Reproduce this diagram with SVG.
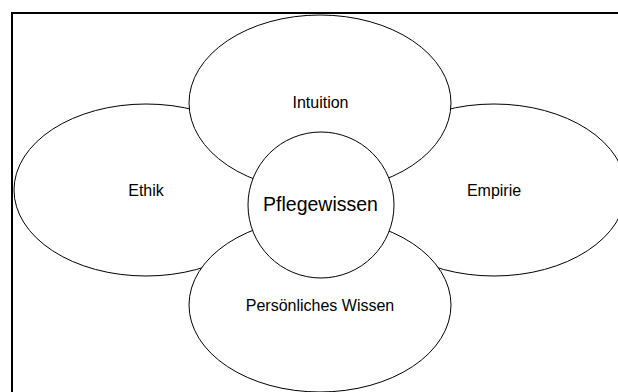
<svg xmlns="http://www.w3.org/2000/svg" width="618" height="392" viewBox="0 0 618 392">
  <style>
    .frame { fill: none; stroke: #000; stroke-width: 2; }
    .part { fill: #fff; stroke: #000; stroke-width: 1; }
    .lbl { font-family: "Liberation Sans", Arial, sans-serif; font-size: 16px; fill: #000; text-anchor: middle; }
    .core { font-size: 19.5px; }
  </style>
  <rect width="618" height="392" fill="#fff"/>
  <rect class="frame" x="12" y="13" width="620" height="392"/>
  <g id="connectors"></g>
  <g id="ethik">
    <ellipse class="part" cx="146" cy="190" rx="132" ry="86"/>
    <text class="lbl" x="146" y="196">Ethik</text>
  </g>
  <g id="empirie">
    <ellipse class="part" cx="494" cy="190" rx="132" ry="86"/>
    <text class="lbl" x="494" y="196">Empirie</text>
  </g>
  <g id="intuition">
    <ellipse class="part" cx="320" cy="103" rx="131" ry="88"/>
    <text class="lbl" x="320.5" y="108">Intuition</text>
  </g>
  <g id="persoenliches-wissen">
    <ellipse class="part" cx="320" cy="305" rx="131" ry="87"/>
    <text class="lbl" x="320" y="311">Persönliches Wissen</text>
  </g>
  <g id="pflegewissen">
    <circle class="part" cx="321" cy="205" r="73"/>
    <text class="lbl core" x="320.5" y="211">Pflegewissen</text>
  </g>
</svg>
